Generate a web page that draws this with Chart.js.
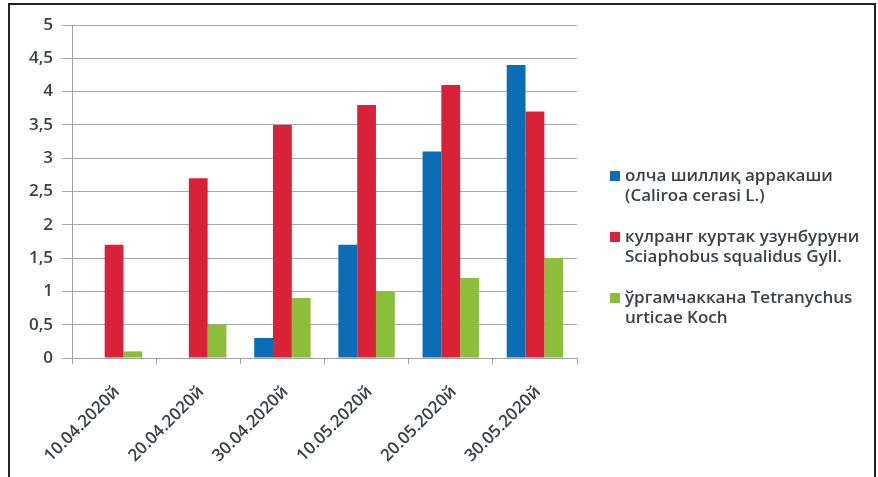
<!DOCTYPE html>
<html>
<head>
<meta charset="utf-8">
<script src="https://cdn.jsdelivr.net/npm/chart.js@4"></script>
<style>
  html, body { margin: 0; padding: 0; background: #fff; }
  #wrap { position: relative; width: 878px; height: 477px; overflow: hidden; }
  #chart { position: absolute; left: 0; top: 0; }
  /* thin dark frame round the figure */
  #frame { position: absolute; left: 8px; top: 3px; width: 864px; height: 480px;
           border: 2px solid #222; border-bottom: none; pointer-events: none; }
</style>
</head>
<body>
<div id="wrap">
  <canvas id="chart" width="878" height="477"></canvas>
  <div id="frame"></div>
</div>
<script>
// dates of the counts
let dates = ['10.04.2020й', '20.04.2020й', '30.04.2020й', '10.05.2020й', '20.05.2020й', '30.05.2020й']
// counts per pest
let cherrySawfly = [0, 0, 0.3, 1.7, 3.1, 4.4]
let greyWeevil = [1.7, 2.7, 3.5, 3.8, 4.1, 3.7]
let spiderMite = [0.1, 0.5, 0.9, 1.0, 1.2, 1.5]
// legend texts, one entry per line
let seriesNames = [
    ['олча шиллиқ арракаши', '(Caliroa cerasi L.)'],
    ['кулранг куртак узунбуруни', 'Sciaphobus squalidus Gyll.'],
    ['ўргамчаккана Tetranychus', 'urticae Koch']
]
let seriesColors = ['#0b6db5', '#d92238', '#8cbd3b']
// y axis tick values
let yTicks = [0, 0.5, 1, 1.5, 2, 2.5, 3, 3.5, 4, 4.5, 5]

let font = 'Open Sans, Liberation Sans, sans-serif'
let textColor = '#3a3f48'

// legend on the right, two lines for each series
let sideLegend = {
    id: 'sideLegend',
    afterDraw: function(chart) {
        let ctx = chart.ctx
        ctx.save()
        ctx.font = '600 17px ' + font
        ctx.textBaseline = 'middle'
        chart.data.datasets.forEach(function(ds, i) {
            let y = 176 + i * 61
            ctx.fillStyle = ds.backgroundColor
            ctx.fillRect(610, y - 5, 10, 10)
            ctx.fillStyle = textColor
            ds.label.forEach(function(line, j) {
                ctx.fillText(line, 625, y + j * 20.5)
            })
        })
        ctx.restore()
    }
}

let ctx = document.getElementById('chart').getContext('2d')
let chart = new Chart(ctx, {
    type: 'bar',
    data: {
        labels: dates,
        datasets: [
            { label: seriesNames[0], data: cherrySawfly, backgroundColor: seriesColors[0] },
            { label: seriesNames[1], data: greyWeevil, backgroundColor: seriesColors[1] },
            { label: seriesNames[2], data: spiderMite, backgroundColor: seriesColors[2] }
        ]
    },
    options: {
        responsive: false,
        animation: false,
        layout: { padding: { left: 0, top: 25, right: 301, bottom: 0 } },
        datasets: { bar: { categoryPercentage: 0.67, barPercentage: 1 } },
        plugins: { legend: { display: false }, tooltip: { enabled: false } },
        scales: {
            x: {
                afterFit: function(scale) { scale.height = 119 },
                grid: { drawOnChartArea: false, drawTicks: true, tickLength: 6, color: '#a0a0a0' },
                border: { color: '#a0a0a0' },
                ticks: {
                    autoSkip: false, minRotation: 45, maxRotation: 45, padding: 18, labelOffset: 3,
                    color: textColor, font: { family: font, size: 17, weight: '600' }
                }
            },
            y: {
                min: 0, max: 5,
                afterFit: function(scale) { scale.width = 72 },
                afterBuildTicks: function(scale) {
                    scale.ticks = yTicks.map(function(v) { return { value: v } })
                },
                grid: { color: '#a8a8a8', tickLength: 10 },
                border: { color: '#a0a0a0' },
                ticks: {
                    padding: 9, color: textColor, font: { family: font, size: 17, weight: '600' },
                    callback: function(v) { return String(v).replace('.', ',') }
                }
            }
        }
    },
    plugins: [sideLegend]
})
</script>
</body>
</html>
